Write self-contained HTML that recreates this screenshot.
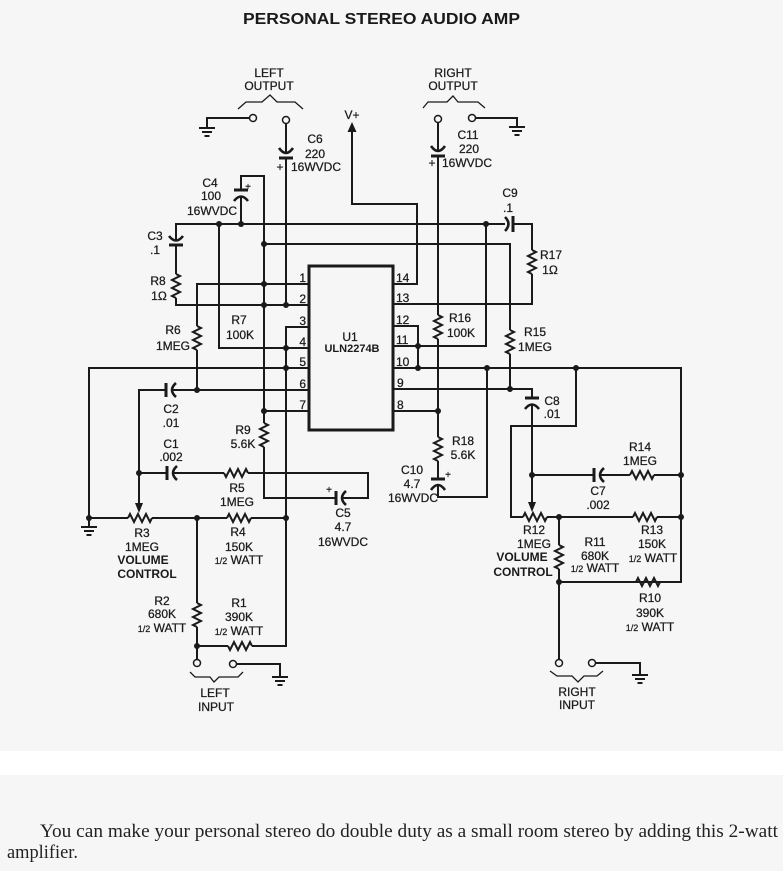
<!DOCTYPE html>
<html>
<head>
<meta charset="utf-8">
<style>
  html,body{margin:0;padding:0;background:#f6f6f6;}
  svg{display:block;}
  .w{fill:none;stroke:#1a1a1a;stroke-width:2;stroke-linejoin:miter;stroke-linecap:butt;}
  .p{fill:none;stroke:#1a1a1a;stroke-width:3;}
  .c{fill:none;stroke:#1a1a1a;stroke-width:2.6;}
  .g{fill:none;stroke:#1a1a1a;stroke-width:2;}
  .b{fill:none;stroke:#1a1a1a;stroke-width:1.3;}
  .d{fill:#1a1a1a;}
  .t{font-family:"Liberation Sans",Arial,sans-serif;font-size:12px;fill:#1a1a1a;stroke:#1a1a1a;stroke-width:0.25;text-anchor:middle;}
  .tb{font-family:"Liberation Sans",Arial,sans-serif;font-size:12px;font-weight:bold;fill:#1a1a1a;text-anchor:middle;}
  .n{font-family:"Liberation Sans",Arial,sans-serif;font-size:12px;fill:#1a1a1a;stroke:#1a1a1a;stroke-width:0.25;}
  .s{font-size:9px;}
</style>
</head>
<body>
<svg width="783" height="871" viewBox="0 0 783 871" xmlns="http://www.w3.org/2000/svg">
  <rect x="0" y="0" width="783" height="871" fill="#f6f6f6"/>
  <rect x="0" y="751" width="783" height="24" fill="#ffffff"/>

  <!-- Title -->
  <text x="381.5" y="24" font-family="Liberation Sans, Arial, sans-serif" font-size="15.5" font-weight="bold" fill="#1a1a1a" text-anchor="middle" textLength="277" lengthAdjust="spacingAndGlyphs">PERSONAL STEREO AUDIO AMP</text>

  <!-- IC -->
  <rect x="309" y="266" width="84" height="164" fill="none" stroke="#1a1a1a" stroke-width="3"/>

  <!-- ===== Top left: left output ===== -->
  <circle cx="253" cy="118" r="3.5" class="w" style="stroke-width:1.5"/>
  <path class="w" d="M249.5,118 H207 V128"/>
  <path class="g" d="M199,128 H215 M202,132 H212 M204.5,136 H209.5"/>
  <polyline class="b" points="238,109 246,102 262,102 270,95 277,102 295,102 303,109"/>

  <!-- C6 -->
  <circle cx="286" cy="120" r="3.5" class="w" style="stroke-width:1.5"/>
  <path class="w" d="M286,123.5 V153"/>
  <path class="c" d="M279,148 Q286,158 293,148"/>
  <path class="p" d="M279,158 H293"/>
  <path class="w" d="M286,158 V305"/>

  <!-- ===== Right output ===== -->
  <circle cx="438" cy="119" r="3.5" class="w" style="stroke-width:1.5"/>
  <circle cx="472" cy="118" r="3.5" class="w" style="stroke-width:1.5"/>
  <path class="w" d="M475.5,118 H517 V127"/>
  <path class="g" d="M509,127 H525 M512,131 H522 M514.5,135 H519.5"/>
  <polyline class="b" points="423,108 428,102 447,102 453,96 458,102 478,102 485,108"/>

  <!-- C11 / R16 / R18 / C10 chain -->
  <path class="w" d="M438,122.5 V151"/>
  <path class="c" d="M431,146 Q438,156 445,146"/>
  <path class="p" d="M431,156 H445"/>
  <path class="w" d="M438,156 V315"/>
  <path class="w" d="M438,315 l4,2 l-8,4 l8,4 l-8,4 l8,4 l-8,4 l4,2"/>
  <path class="w" d="M438,339 V437"/>
  <path class="w" d="M438,437 l4,2 l-8,4 l8,4 l-8,4 l8,4 l-8,4 l4,2"/>
  <path class="w" d="M438,461 V479"/>
  <path class="p" d="M431,479 H445"/>
  <path class="c" d="M431,490 Q438,480 445,490"/>
  <path class="w" d="M438,485 V497 H487 V368"/>

  <!-- V+ -->
  <path class="d" d="M352,122 L347.5,132 L356.5,132 Z"/>
  <path class="w" d="M352,131 V204 H417 V284 H393"/>

  <!-- y=224 line, C9, R17, pin 13 -->
  <path class="w" d="M176,240.5 V224 H505"/>
  <path class="c" d="M505,217 Q512,224 505,231"/>
  <path class="p" d="M513,216 V232"/>
  <path class="w" d="M513,224 H532 V250"/>
  <path class="w" d="M532,250 l4,2 l-8,4 l8,4 l-8,4 l8,4 l-8,4 l4,2"/>
  <path class="w" d="M532,274 V304 H393"/>

  <!-- C3 / R8 / pin 2 -->
  <path class="c" d="M169,236 Q176,245 183,236"/>
  <path class="p" d="M169,245 H183"/>
  <path class="w" d="M176,245 V274"/>
  <path class="w" d="M176,274 l4,2 l-8,4 l8,4 l-8,4 l8,4 l-8,4 l4,2"/>
  <path class="w" d="M176,298 V305 H309"/>

  <!-- C4 and x=264 vertical -->
  <path class="p" d="M234,190 H248"/>
  <path class="c" d="M234,201 Q241,192 248,201"/>
  <path class="w" d="M241,196.5 V224"/>
  <path class="w" d="M241,190 V176 H264 V423"/>
  <path class="w" d="M264,423 l4,2 l-8,4 l8,4 l-8,4 l8,4 l-8,4 l4,2"/>
  <path class="w" d="M264,447 V498 H336"/>
  <path class="p" d="M336,491 V505"/>
  <path class="c" d="M346,491 Q338,498 346,505"/>
  <path class="w" d="M342,498 H368 V473 H248"/>
  <path class="w" d="M248,473 l-2,-4 l-4,8 l-4,-8 l-4,8 l-4,-8 l-4,8 l-2,-4"/>
  <path class="w" d="M224,473 H173"/>
  <path class="c" d="M177,466 Q169,473 177,480"/>
  <path class="p" d="M167,466 V480"/>
  <path class="w" d="M167,473 H139"/>

  <!-- y=244 line / R15 -->
  <path class="w" d="M264,244 H510 V330"/>
  <path class="w" d="M510,330 l4,2 l-8,4 l8,4 l-8,4 l8,4 l-8,4 l4,2"/>
  <path class="w" d="M510,354 V389"/>

  <!-- Left pins -->
  <path class="w" d="M309,284 H197 V326"/>
  <path class="w" d="M197,326 l4,2 l-8,4 l8,4 l-8,4 l8,4 l-8,4 l4,2"/>
  <path class="w" d="M197,350 V390"/>
  <path class="w" d="M309,327 H286 V646 H252"/>
  <path class="w" d="M252,646 l-2,-4 l-4,8 l-4,-8 l-4,8 l-4,-8 l-4,8 l-2,-4"/>
  <path class="w" d="M228,646 H197"/>
  <path class="w" d="M309,348 H219 V224"/>
  <path class="w" d="M309,368 H89 V527"/>
  <path class="g" d="M81,527 H97 M84,531 H94 M86.5,535 H91.5"/>
  <path class="w" d="M309,390 H172"/>
  <path class="c" d="M176,383 Q168,390 176,397"/>
  <path class="p" d="M166,383 V397"/>
  <path class="w" d="M166,390 H139 V504"/>
  <path class="d" d="M139,513 L135,503 L143,503 Z"/>
  <path class="w" d="M309,411 H264"/>

  <!-- R3 / R4 line -->
  <path class="w" d="M89,518 H128"/>
  <path class="w" d="M128,518 l2,-4 l4,8 l4,-8 l4,8 l4,-8 l4,8 l2,-4"/>
  <path class="w" d="M152,518 H227"/>
  <path class="w" d="M227,518 l2,-4 l4,8 l4,-8 l4,8 l4,-8 l4,8 l2,-4"/>
  <path class="w" d="M251,518 H286"/>

  <!-- R2 -->
  <path class="w" d="M197,518 V603"/>
  <path class="w" d="M197,603 l4,2 l-8,4 l8,4 l-8,4 l8,4 l-8,4 l4,2"/>
  <path class="w" d="M197,627 V659.5"/>
  <circle cx="197" cy="663" r="3.5" class="w" style="stroke-width:1.5"/>
  <circle cx="233" cy="664" r="3.5" class="w" style="stroke-width:1.5"/>
  <path class="w" d="M236.5,664 H280 V677"/>
  <path class="g" d="M272,677 H288 M275,681 H285 M277.5,685 H282.5"/>
  <polyline class="b" points="190,672 195,677 210,677 214,682 219,677 238,677 243,672"/>

  <!-- Right pins -->
  <path class="w" d="M393,411 H438"/>
  <path class="w" d="M393,389 H532 V398"/>
  <path class="p" d="M525,398 H539"/>
  <path class="c" d="M525,409 Q532,400 539,409"/>
  <path class="w" d="M532,404.5 V502"/>
  <path class="d" d="M532,512 L528,502 L536,502 Z"/>
  <path class="w" d="M393,368 H681 V582 H559"/>
  <path class="w" d="M393,346 H486 V224"/>
  <path class="w" d="M393,326 H418 V368"/>

  <!-- x=576 -> R12 / R13 -->
  <path class="w" d="M576,368 V426 H511 V517 H523"/>
  <path class="w" d="M523,517 l2,-4 l4,8 l4,-8 l4,8 l4,-8 l4,8 l2,-4"/>
  <path class="w" d="M547,517 H633"/>
  <path class="w" d="M633,517 l2,-4 l4,8 l4,-8 l4,8 l4,-8 l4,8 l2,-4"/>
  <path class="w" d="M657,517 H681"/>

  <!-- C7 / R14 -->
  <path class="w" d="M532,475 H594"/>
  <path class="p" d="M594,468 V482"/>
  <path class="c" d="M604,468 Q596,475 604,482"/>
  <path class="w" d="M600,475 H630"/>
  <path class="w" d="M630,475 l2,-4 l4,8 l4,-8 l4,8 l4,-8 l4,8 l2,-4"/>
  <path class="w" d="M654,475 H681"/>

  <!-- R11 / R10 -->
  <path class="w" d="M559,517 V545"/>
  <path class="w" d="M559,545 l4,2 l-8,4 l8,4 l-8,4 l8,4 l-8,4 l4,2"/>
  <path class="w" d="M559,569 V659.5"/>
  <path class="w" d="M559,582 H636"/>
  <path class="w" d="M636,582 l2,-4 l4,8 l4,-8 l4,8 l4,-8 l4,8 l2,-4"/>
  <path class="w" d="M660,582 H681"/>
  <circle cx="559" cy="663" r="3.5" class="w" style="stroke-width:1.5"/>
  <circle cx="592" cy="663" r="3.5" class="w" style="stroke-width:1.5"/>
  <path class="w" d="M595.5,663 H640 V675"/>
  <path class="g" d="M632,675 H648 M635,679 H645 M637.5,683 H642.5"/>
  <polyline class="b" points="550,671 557,676 572,676 578,682 584,676 597,676 603,671"/>

  <!-- Junction dots -->
  <g class="d">
    <circle cx="219" cy="224" r="3"/><circle cx="241" cy="224" r="3"/><circle cx="486" cy="224" r="3"/>
    <circle cx="264" cy="244" r="3"/><circle cx="264" cy="284" r="3"/><circle cx="264" cy="305" r="3"/>
    <circle cx="286" cy="305" r="3"/><circle cx="286" cy="348" r="3"/><circle cx="286" cy="368" r="3"/>
    <circle cx="197" cy="390" r="3"/><circle cx="264" cy="411" r="3"/><circle cx="139" cy="473" r="3"/>
    <circle cx="89" cy="518" r="3"/><circle cx="197" cy="518" r="3"/><circle cx="286" cy="518" r="3"/>
    <circle cx="197" cy="646" r="3"/><circle cx="418" cy="346" r="3"/><circle cx="418" cy="368" r="3"/>
    <circle cx="487" cy="368" r="3"/><circle cx="576" cy="368" r="3"/><circle cx="510" cy="389" r="3"/>
    <circle cx="438" cy="411" r="3"/><circle cx="532" cy="475" r="3"/><circle cx="681" cy="475" r="3"/>
    <circle cx="681" cy="517" r="3"/><circle cx="559" cy="517" r="3"/><circle cx="559" cy="582" r="3"/>
  </g>

  <!-- Pin numbers -->
  <g class="n">
    <text x="306" y="282" text-anchor="end">1</text>
    <text x="306" y="303" text-anchor="end">2</text>
    <text x="306" y="325" text-anchor="end">3</text>
    <text x="306" y="346" text-anchor="end">4</text>
    <text x="306" y="366" text-anchor="end">5</text>
    <text x="306" y="388" text-anchor="end">6</text>
    <text x="306" y="409" text-anchor="end">7</text>
  </g>
  <g class="n">
    <text x="396" y="282">14</text>
    <text x="396" y="302">13</text>
    <text x="396" y="324">12</text>
    <text x="396" y="344">11</text>
    <text x="396" y="366">10</text>
    <text x="397" y="387">9</text>
    <text x="397" y="409">8</text>
  </g>

  <!-- Labels -->
  <text class="t" x="269" y="77">LEFT</text>
  <text class="t" x="269" y="90">OUTPUT</text>
  <text class="t" x="453" y="77">RIGHT</text>
  <text class="t" x="453" y="90">OUTPUT</text>
  <text class="t" x="352" y="119">V+</text>

  <text class="t" x="315" y="143">C6</text>
  <text class="t" x="315" y="158">220</text>
  <text class="t" x="316" y="171">16WVDC</text>
  <text class="t" x="280" y="171">+</text>

  <text class="t" x="468" y="139">C11</text>
  <text class="t" x="469" y="153">220</text>
  <text class="t" x="467" y="167">16WVDC</text>
  <text class="t" x="432" y="167">+</text>

  <text class="t" x="210" y="187">C4</text>
  <text class="t" x="211" y="200">100</text>
  <text class="t" x="212" y="215">16WVDC</text>
  <text class="t" x="248" y="190" style="font-size:10px">+</text>

  <text class="t" x="510" y="197">C9</text>
  <text class="t" x="508" y="212">.1</text>
  <text class="t" x="155" y="240">C3</text>
  <text class="t" x="155" y="254">.1</text>

  <text class="t" x="551" y="259">R17</text>
  <text class="t" x="550" y="274">1Ω</text>
  <text class="t" x="158" y="285">R8</text>
  <text class="t" x="159" y="300">1Ω</text>
  <text class="t" x="173" y="334">R6</text>
  <text class="t" x="173" y="350">1MEG</text>
  <text class="t" x="239" y="324">R7</text>
  <text class="t" x="240" y="339">100K</text>
  <text class="t" x="460" y="322">R16</text>
  <text class="t" x="461" y="337">100K</text>
  <text class="t" x="535" y="336">R15</text>
  <text class="t" x="535" y="351">1MEG</text>

  <text class="t" x="350" y="341">U1</text>
  <text class="tb" x="352" y="352" style="font-size:11px">ULN2274B</text>

  <text class="t" x="171" y="413">C2</text>
  <text class="t" x="171" y="427">.01</text>
  <text class="t" x="171" y="448">C1</text>
  <text class="t" x="171" y="461">.002</text>
  <text class="t" x="243" y="434">R9</text>
  <text class="t" x="243" y="448">5.6K</text>
  <text class="t" x="463" y="445">R18</text>
  <text class="t" x="463" y="459">5.6K</text>
  <text class="t" x="412" y="474">C10</text>
  <text class="t" x="412" y="488">4.7</text>
  <text class="t" x="413" y="502">16WVDC</text>
  <text class="t" x="448" y="478" style="font-size:10px">+</text>

  <text class="t" x="552" y="405">C8</text>
  <text class="t" x="552" y="418">.01</text>
  <text class="t" x="640" y="451">R14</text>
  <text class="t" x="640" y="465">1MEG</text>
  <text class="t" x="598" y="495">C7</text>
  <text class="t" x="598" y="509">.002</text>

  <text class="t" x="237" y="492">R5</text>
  <text class="t" x="237" y="506">1MEG</text>
  <text class="t" x="343" y="517">C5</text>
  <text class="t" x="343" y="531">4.7</text>
  <text class="t" x="343" y="546">16WVDC</text>
  <text class="t" x="329" y="493" style="font-size:10px">+</text>

  <text class="t" x="142" y="537">R3</text>
  <text class="t" x="142" y="551">1MEG</text>
  <text class="tb" x="143" y="564">VOLUME</text>
  <text class="tb" x="147" y="578">CONTROL</text>

  <text class="t" x="238" y="536">R4</text>
  <text class="t" x="239" y="551">150K</text>
  <text class="t" x="239" y="564"><tspan class="s">1/2</tspan> WATT</text>

  <text class="t" x="534" y="534">R12</text>
  <text class="t" x="534" y="548">1MEG</text>
  <text class="tb" x="522" y="561">VOLUME</text>
  <text class="tb" x="523" y="576">CONTROL</text>

  <text class="t" x="595" y="546">R11</text>
  <text class="t" x="595" y="560">680K</text>
  <text class="t" x="595" y="572"><tspan class="s">1/2</tspan> WATT</text>

  <text class="t" x="652" y="534">R13</text>
  <text class="t" x="652" y="548">150K</text>
  <text class="t" x="653" y="562"><tspan class="s">1/2</tspan> WATT</text>

  <text class="t" x="162" y="605">R2</text>
  <text class="t" x="162" y="618">680K</text>
  <text class="t" x="162" y="632"><tspan class="s">1/2</tspan> WATT</text>

  <text class="t" x="239" y="607">R1</text>
  <text class="t" x="239" y="621">390K</text>
  <text class="t" x="239" y="635"><tspan class="s">1/2</tspan> WATT</text>

  <text class="t" x="650" y="602">R10</text>
  <text class="t" x="650" y="617">390K</text>
  <text class="t" x="650" y="631"><tspan class="s">1/2</tspan> WATT</text>

  <text class="t" x="215" y="697">LEFT</text>
  <text class="t" x="216" y="711">INPUT</text>
  <text class="t" x="577" y="696">RIGHT</text>
  <text class="t" x="577" y="709">INPUT</text>

  <!-- Caption -->
  <text x="40" y="837" font-family="Liberation Serif, Times New Roman, serif" font-size="19" fill="#222" textLength="738" lengthAdjust="spacingAndGlyphs">You can make your personal stereo do double duty as a small room stereo by adding this 2-watt</text>
  <text x="7" y="858" font-family="Liberation Serif, Times New Roman, serif" font-size="19" fill="#222" textLength="71" lengthAdjust="spacingAndGlyphs">amplifier.</text>
</svg>
</body>
</html>
